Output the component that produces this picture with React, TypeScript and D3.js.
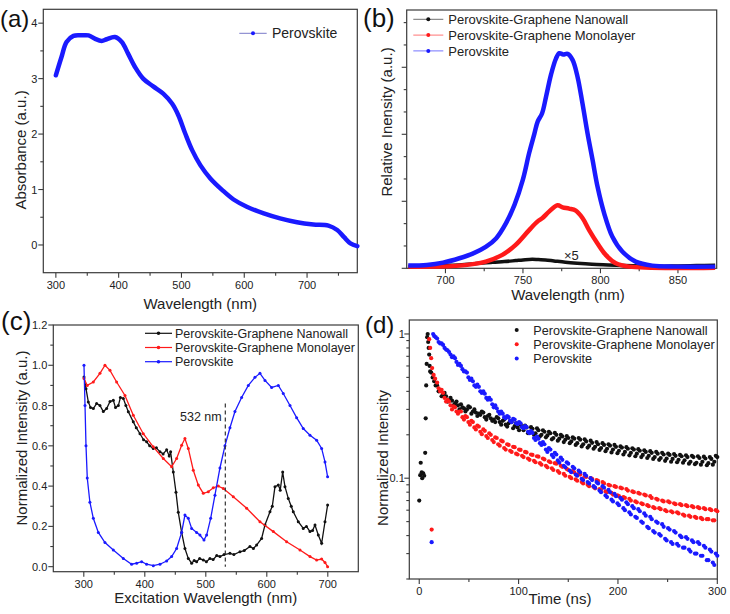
import React from 'react';
import * as d3 from 'd3';

const FONT = '"Liberation Sans", Arial, Helvetica, sans-serif';
const BLUE = '#1a1aff';
const RED = '#ff1a1a';
const BLACK = '#111111';
const FRAME = '#3a3a3a';

type Pt = [number, number];

// ---------- (a) absorbance ----------
const absWavelength = [300, 309, 317, 328, 341, 352, 362, 373, 381, 394, 405, 415, 426, 439, 455, 471, 485, 495, 506, 517, 530, 546, 565, 583, 604, 631, 657, 684, 710, 734, 748, 759, 769, 780];
const absValue = [3.06, 3.39, 3.66, 3.77, 3.78, 3.78, 3.72, 3.68, 3.71, 3.75, 3.66, 3.45, 3.21, 3.0, 2.86, 2.73, 2.55, 2.34, 2.01, 1.71, 1.44, 1.2, 0.99, 0.82, 0.69, 0.57, 0.48, 0.41, 0.37, 0.35, 0.27, 0.14, 0.03, -0.02];
const absXTicks = [300, 400, 500, 600, 700];
const absXMinor = [350, 450, 550, 650, 750];
const absYTicks = [0, 1, 2, 3, 4];
const absYMinor = [0.5, 1.5, 2.5, 3.5];

// ---------- (b) PL spectra ----------
const plBlue: Pt[] = [[676, 0.04], [688, 0.05], [698.5, 0.085], [709, 0.15], [717.6, 0.22], [726, 0.32], [732.8, 0.45], [739, 0.67], [744.6, 0.95], [749.9, 1.32], [754, 1.72], [757.4, 2.01], [759.5, 2.19], [762.3, 2.31], [764.9, 2.56], [768.1, 2.89], [771.3, 3.13], [773.5, 3.21], [776, 3.19], [778.8, 3.2], [782, 3.11], [785.2, 2.86], [788.4, 2.46], [791.7, 2.01], [794.9, 1.62], [798.1, 1.22], [802.4, 0.82], [807.7, 0.47], [814.1, 0.25], [822.7, 0.1], [833.4, 0.04], [848.4, 0.025], [874, 0.025]];
const plRed: Pt[] = [[676, 0.025], [709, 0.04], [726, 0.1], [736.7, 0.2], [745.3, 0.35], [754, 0.57], [759.5, 0.7], [762.6, 0.75], [767, 0.85], [772.3, 0.94], [775.6, 0.91], [779.8, 0.89], [784.1, 0.86], [788.4, 0.75], [792.7, 0.57], [798.1, 0.37], [803.4, 0.2], [809.9, 0.075], [818.4, 0.025], [874, 0.01]];
const plBlack: Pt[] = [[676, 0.025], [692, 0.04], [709, 0.05], [720, 0.07], [730.4, 0.09], [738, 0.1], [745.3, 0.115], [750, 0.125], [756, 0.135], [760, 0.13], [764.5, 0.125], [770, 0.11], [777.4, 0.09], [785, 0.075], [794.6, 0.06], [805, 0.05], [816, 0.04], [826, 0.035], [837.5, 0.03], [850, 0.035], [862, 0.04], [874, 0.045]];
const plXTicks = [700, 750, 800, 850];
const plXMinor = [725, 775, 825];
const plYTicks = [0, 1, 2, 3];
const plYMinor = [1 / 3, 2 / 3, 4 / 3, 5 / 3, 7 / 3, 8 / 3, 10 / 3, 11 / 3];

// ---------- (c) PLE spectra ----------
const pleBlue: Pt[] = [[300.3, 1.0], [302, 0.8], [303.6, 0.6], [305.7, 0.44], [310, 0.32], [315.6, 0.24], [323.8, 0.17], [334.7, 0.12], [348.4, 0.083], [364.8, 0.041], [378.4, 0.012], [386.6, 0.017], [394.8, 0.025], [403, 0.012], [414, 0.005], [424.9, 0.012], [435.8, 0.028], [444, 0.05], [452.2, 0.09], [460.4, 0.17], [465.8, 0.256], [471.3, 0.24], [476.8, 0.19], [485, 0.17], [490.4, 0.157], [497, 0.132], [501.4, 0.157], [508, 0.24], [515, 0.355], [523.2, 0.49], [531.4, 0.6], [539.6, 0.69], [547.8, 0.77], [558.7, 0.84], [569.7, 0.9], [580.6, 0.94], [588.8, 0.96], [597, 0.925], [607.9, 0.89], [618.9, 0.9], [627, 0.86], [638, 0.8], [648.9, 0.74], [659.8, 0.686], [670.8, 0.653], [681.7, 0.628], [689.9, 0.587], [695.4, 0.52], [699.7, 0.446]];
const pleRed: Pt[] = [[300.3, 0.934], [305.7, 0.9], [315.6, 0.917], [326.5, 0.96], [334.7, 1.0], [342.9, 0.975], [353.8, 0.917], [367.5, 0.85], [381.1, 0.752], [397.5, 0.66], [413.9, 0.595], [430.3, 0.537], [444, 0.496], [452.2, 0.537], [460.4, 0.603], [465.8, 0.636], [471.3, 0.587], [479.5, 0.479], [487.7, 0.405], [495.9, 0.364], [504.1, 0.372], [512.3, 0.392], [520.5, 0.4], [528.7, 0.388], [545.1, 0.347], [567, 0.29], [588.8, 0.223], [610.7, 0.174], [632.5, 0.124], [654.4, 0.083], [670.8, 0.05], [681.7, 0.033], [689.9, 0.038], [695.4, 0.021], [699.7, 0.0]];
const pleBlack: Pt[] = [[300.3, 0.942], [303.6, 0.884], [307.4, 0.818], [311, 0.79], [315.6, 0.785], [321, 0.81], [326.5, 0.8], [332, 0.77], [337.4, 0.785], [343, 0.82], [348.4, 0.826], [352, 0.79], [356.6, 0.8], [360, 0.84], [364.8, 0.835], [369, 0.8], [373, 0.769], [381.1, 0.719], [386, 0.69], [392.1, 0.66], [398, 0.63], [403, 0.62], [408, 0.6], [413.9, 0.587], [419, 0.59], [424.9, 0.57], [430, 0.56], [435.8, 0.58], [440, 0.55], [442.3, 0.57], [446.7, 0.47], [451.1, 0.37], [454.9, 0.27], [460.4, 0.17], [465.8, 0.09], [471.3, 0.041], [476.8, 0.017], [481, 0.03], [485, 0.025], [490, 0.04], [495.9, 0.033], [501, 0.025], [506.8, 0.041], [512, 0.035], [518, 0.055], [523.2, 0.05], [530, 0.06], [539.6, 0.066], [546, 0.06], [556, 0.074], [563, 0.08], [572.4, 0.1], [578, 0.09], [583.3, 0.107], [591.5, 0.14], [597, 0.207], [605.2, 0.273], [609, 0.3], [613.4, 0.397], [618.9, 0.405], [622, 0.38], [626, 0.47], [629.8, 0.397], [635.2, 0.339], [640, 0.3], [643.4, 0.273], [651.6, 0.223], [659.8, 0.19], [665, 0.2], [670.8, 0.174], [675, 0.18], [679, 0.207], [684.4, 0.157], [689.9, 0.116], [695.4, 0.223], [699.7, 0.306]];
const pleXTicks = [300, 400, 500, 600, 700];
const pleXMinor = [350, 450, 550, 650];
const pleYTicks = [0, 0.2, 0.4, 0.6, 0.8, 1.0, 1.2];
const pleYMinor = [0.1, 0.3, 0.5, 0.7, 0.9, 1.1];
const laserLine = 532;

// ---------- (d) TRPL decay ----------
const trBlack: Pt[] = [[0, 0.07], [1, 0.105], [1.5, 0.128], [2.5, 0.11], [3, 0.1], [4, 0.108], [5, 0.104], [6, 0.15], [6.5, 0.26], [7, 0.44], [7.5, 0.62], [8, 0.95], [8.5, 1.0], [9, 0.88], [9.5, 0.8], [10, 0.72], [10.5, 0.6], [11, 0.55],
  [12, 0.54], [15, 0.47], [18, 0.44], [21, 0.41], [24, 0.38], [27, 0.37], [30, 0.35], [33, 0.345], [36, 0.33], [39, 0.32], [42, 0.325], [45, 0.305], [48, 0.3], [51, 0.31], [54, 0.29], [57, 0.285], [60, 0.28], [63, 0.29], [66, 0.265], [69, 0.27], [72, 0.26], [75, 0.255], [78, 0.265], [81, 0.245], [84, 0.25], [87, 0.235], [90, 0.24], [93, 0.245], [96, 0.23], [99, 0.225], [102, 0.235], [105, 0.215], [108, 0.225], [111, 0.21], [114, 0.22], [117, 0.205], [120, 0.215], [123, 0.2], [126, 0.21], [129, 0.198], [132, 0.205], [135, 0.19], [138, 0.2], [141, 0.188], [144, 0.195], [147, 0.185], [150, 0.19], [153, 0.18], [156, 0.188], [159, 0.175], [162, 0.185], [165, 0.172], [168, 0.18], [171, 0.168], [174, 0.176], [177, 0.165], [180, 0.172], [183, 0.162], [186, 0.17], [189, 0.16], [192, 0.168], [195, 0.158], [198, 0.165], [201, 0.155], [204, 0.163], [207, 0.152], [210, 0.16], [213, 0.15], [216, 0.158], [219, 0.148], [222, 0.155], [225, 0.145], [228, 0.152], [231, 0.143], [234, 0.15], [237, 0.14], [240, 0.148], [243, 0.138], [246, 0.146], [249, 0.137], [252, 0.145], [255, 0.136], [258, 0.143], [261, 0.134], [264, 0.142], [267, 0.133], [270, 0.14], [273, 0.13], [276, 0.14], [279, 0.128], [282, 0.138], [285, 0.13], [288, 0.137], [291, 0.127], [294, 0.136], [297, 0.13], [300, 0.14],
  [13.5, 0.5], [16.5, 0.44], [19.5, 0.4], [22.5, 0.37], [25.5, 0.39], [28.5, 0.34], [31.5, 0.36], [34.5, 0.32], [37.5, 0.34], [40.5, 0.3], [43.5, 0.31], [46.5, 0.29], [49.5, 0.315], [52.5, 0.28], [55.5, 0.3], [58.5, 0.27], [61.5, 0.275], [64.5, 0.285], [67.5, 0.255], [70.5, 0.275], [73.5, 0.25], [76.5, 0.245], [79.5, 0.26], [82.5, 0.235], [85.5, 0.255], [88.5, 0.228], [91.5, 0.25], [94.5, 0.222], [97.5, 0.24], [100.5, 0.215], [103.5, 0.228], [106.5, 0.232], [109.5, 0.205], [112.5, 0.226], [115.5, 0.2], [118.5, 0.222], [121.5, 0.195], [124.5, 0.215], [127.5, 0.192], [130.5, 0.21], [133.5, 0.186], [136.5, 0.206], [139.5, 0.182], [142.5, 0.2], [145.5, 0.178], [148.5, 0.196], [151.5, 0.175], [154.5, 0.192], [157.5, 0.17], [160.5, 0.19], [163.5, 0.166], [166.5, 0.186], [169.5, 0.163], [172.5, 0.182], [175.5, 0.16], [178.5, 0.178], [181.5, 0.157], [184.5, 0.175], [187.5, 0.154], [190.5, 0.172], [193.5, 0.151], [196.5, 0.17], [199.5, 0.149], [202.5, 0.166], [205.5, 0.146], [208.5, 0.164], [211.5, 0.144], [214.5, 0.161], [217.5, 0.142], [220.5, 0.159], [223.5, 0.14], [226.5, 0.156], [229.5, 0.138], [232.5, 0.154], [235.5, 0.136], [238.5, 0.152], [241.5, 0.134], [244.5, 0.15], [247.5, 0.132], [250.5, 0.148], [253.5, 0.13], [256.5, 0.147], [259.5, 0.129], [262.5, 0.145], [265.5, 0.128], [268.5, 0.144], [271.5, 0.126], [274.5, 0.143], [277.5, 0.125], [280.5, 0.142], [283.5, 0.124], [286.5, 0.141], [289.5, 0.123], [292.5, 0.14], [295.5, 0.124], [298.5, 0.143]];
const trRed: Pt[] = [[12.5, 0.044], [10, 0.92], [11, 0.8], [12, 0.68], [13, 0.58], [14.5, 0.52], [16, 0.49],
  [18, 0.46], [21, 0.4], [24, 0.39], [27, 0.34], [30, 0.34], [33, 0.3], [36, 0.31], [39, 0.28], [42, 0.29], [45, 0.255], [48, 0.265], [51, 0.235], [54, 0.245], [57, 0.218], [60, 0.228], [63, 0.202], [66, 0.213], [69, 0.19], [72, 0.2], [75, 0.178], [78, 0.19], [81, 0.168], [84, 0.18], [87, 0.158], [90, 0.17], [93, 0.152], [96, 0.164], [99, 0.146], [102, 0.157], [105, 0.14], [108, 0.151], [111, 0.134], [114, 0.145], [117, 0.129], [120, 0.141], [123, 0.124], [126, 0.135], [129, 0.119], [132, 0.129], [135, 0.114], [138, 0.126], [141, 0.109], [144, 0.12], [147, 0.104], [150, 0.114], [153, 0.1], [156, 0.11], [159, 0.096], [162, 0.106], [165, 0.092], [168, 0.102], [171, 0.088], [174, 0.099], [177, 0.085], [180, 0.096], [183, 0.083], [186, 0.092], [189, 0.08], [192, 0.089], [195, 0.077], [198, 0.087], [201, 0.075], [204, 0.085], [207, 0.073], [210, 0.082], [213, 0.07], [216, 0.08], [219, 0.068], [222, 0.078], [225, 0.066], [228, 0.076], [231, 0.064], [234, 0.073], [237, 0.062], [240, 0.071], [243, 0.061], [246, 0.069], [249, 0.059], [252, 0.068], [255, 0.058], [258, 0.066], [261, 0.057], [264, 0.065], [267, 0.055], [270, 0.064], [273, 0.054], [276, 0.063], [279, 0.053], [282, 0.062], [285, 0.052], [288, 0.061], [291, 0.052], [294, 0.06], [297, 0.051], [300, 0.059],
  [19.5, 0.42], [22.5, 0.41], [25.5, 0.36], [28.5, 0.35], [31.5, 0.32], [34.5, 0.315], [37.5, 0.29], [40.5, 0.29], [43.5, 0.265], [46.5, 0.27], [49.5, 0.245], [52.5, 0.25], [55.5, 0.225], [58.5, 0.232], [61.5, 0.21], [64.5, 0.218], [67.5, 0.196], [70.5, 0.205], [73.5, 0.184], [76.5, 0.192], [79.5, 0.172], [82.5, 0.182], [85.5, 0.162], [88.5, 0.172], [91.5, 0.155], [94.5, 0.165], [97.5, 0.148], [100.5, 0.158], [103.5, 0.143], [106.5, 0.152], [109.5, 0.137], [112.5, 0.146], [115.5, 0.132], [118.5, 0.142], [121.5, 0.127], [124.5, 0.137], [127.5, 0.122], [130.5, 0.131], [133.5, 0.117], [136.5, 0.127], [139.5, 0.112], [142.5, 0.122], [145.5, 0.107], [148.5, 0.116], [151.5, 0.102], [154.5, 0.112], [157.5, 0.098], [160.5, 0.107], [163.5, 0.094], [166.5, 0.103], [169.5, 0.09], [172.5, 0.1], [175.5, 0.087], [178.5, 0.097], [181.5, 0.084], [184.5, 0.094], [187.5, 0.081], [190.5, 0.09], [193.5, 0.079], [196.5, 0.088], [199.5, 0.076], [202.5, 0.086], [205.5, 0.074], [208.5, 0.084], [211.5, 0.072], [214.5, 0.081], [217.5, 0.069], [220.5, 0.079], [223.5, 0.067], [226.5, 0.077], [229.5, 0.065], [232.5, 0.075], [235.5, 0.063], [238.5, 0.072], [241.5, 0.062], [244.5, 0.07], [247.5, 0.06], [250.5, 0.069], [253.5, 0.059], [256.5, 0.067], [259.5, 0.058], [262.5, 0.066], [265.5, 0.056], [268.5, 0.065], [271.5, 0.055], [274.5, 0.064], [277.5, 0.054], [280.5, 0.063], [283.5, 0.053], [286.5, 0.062], [289.5, 0.052], [292.5, 0.061], [295.5, 0.051], [298.5, 0.06]];
const trBlue: Pt[] = [[12.5, 0.036], [14, 1.0], [15, 0.97], [18, 0.93], [21, 0.86], [24, 0.84], [27, 0.78], [30, 0.75], [33, 0.69], [36, 0.68], [39, 0.61], [42, 0.6], [45, 0.55], [48, 0.54], [51, 0.48], [54, 0.47], [57, 0.43], [60, 0.43], [63, 0.39], [66, 0.385], [69, 0.35], [72, 0.35], [75, 0.31], [78, 0.305], [81, 0.28], [84, 0.28], [87, 0.26], [90, 0.265], [93, 0.245], [96, 0.255], [99, 0.238], [102, 0.24], [105, 0.222], [108, 0.226], [111, 0.205], [114, 0.206], [117, 0.184], [120, 0.188], [123, 0.17], [126, 0.172], [129, 0.152], [132, 0.158], [135, 0.14], [138, 0.146], [141, 0.128], [144, 0.134], [147, 0.119], [150, 0.126], [153, 0.11], [156, 0.117], [159, 0.104], [162, 0.11], [165, 0.097], [168, 0.104], [171, 0.092], [174, 0.097], [177, 0.086], [180, 0.092], [183, 0.08], [186, 0.086], [189, 0.074], [192, 0.08], [195, 0.069], [198, 0.075], [201, 0.065], [204, 0.071], [207, 0.06], [210, 0.066], [213, 0.056], [216, 0.062], [219, 0.053], [222, 0.059], [225, 0.049], [228, 0.055], [231, 0.045], [234, 0.052], [237, 0.042], [240, 0.049], [243, 0.04], [246, 0.046], [249, 0.037], [252, 0.044], [255, 0.035], [258, 0.042], [261, 0.034], [264, 0.039], [267, 0.033], [270, 0.038], [273, 0.031], [276, 0.036], [279, 0.03], [282, 0.035], [285, 0.029], [288, 0.033], [291, 0.027], [294, 0.031], [297, 0.025], [300, 0.029],
  [16.5, 0.95], [19.5, 0.88], [22.5, 0.86], [25.5, 0.8], [28.5, 0.77], [31.5, 0.72], [34.5, 0.7], [37.5, 0.64], [40.5, 0.62], [43.5, 0.57], [46.5, 0.55], [49.5, 0.5], [52.5, 0.49], [55.5, 0.44], [58.5, 0.445], [61.5, 0.4], [64.5, 0.4], [67.5, 0.36], [70.5, 0.36], [73.5, 0.325], [76.5, 0.32], [79.5, 0.29], [82.5, 0.29], [85.5, 0.265], [88.5, 0.27], [91.5, 0.25], [94.5, 0.258], [97.5, 0.24], [100.5, 0.245], [103.5, 0.226], [106.5, 0.23], [109.5, 0.21], [112.5, 0.212], [115.5, 0.19], [118.5, 0.194], [121.5, 0.175], [124.5, 0.178], [127.5, 0.158], [130.5, 0.162], [133.5, 0.145], [136.5, 0.15], [139.5, 0.133], [142.5, 0.139], [145.5, 0.122], [148.5, 0.129], [151.5, 0.113], [154.5, 0.12], [157.5, 0.106], [160.5, 0.113], [163.5, 0.099], [166.5, 0.107], [169.5, 0.094], [172.5, 0.1], [175.5, 0.088], [178.5, 0.094], [181.5, 0.082], [184.5, 0.088], [187.5, 0.076], [190.5, 0.083], [193.5, 0.071], [196.5, 0.078], [199.5, 0.067], [202.5, 0.073], [205.5, 0.062], [208.5, 0.068], [211.5, 0.058], [214.5, 0.064], [217.5, 0.054], [220.5, 0.061], [223.5, 0.05], [226.5, 0.057], [229.5, 0.046], [232.5, 0.054], [235.5, 0.043], [238.5, 0.05], [241.5, 0.041], [244.5, 0.048], [247.5, 0.038], [250.5, 0.045], [253.5, 0.036], [256.5, 0.043], [259.5, 0.035], [262.5, 0.04], [265.5, 0.033], [268.5, 0.039], [271.5, 0.032], [274.5, 0.037], [277.5, 0.03], [280.5, 0.036], [283.5, 0.029], [286.5, 0.034], [289.5, 0.027], [292.5, 0.032], [295.5, 0.026], [298.5, 0.03]];
const trXTicks = [0, 100, 200, 300];
const trXMinor = [50, 150, 250];
const trYTicks = [0.1, 1];
const trYMinor = [0.02, 0.03, 0.04, 0.05, 0.06, 0.07, 0.08, 0.09, 0.2, 0.3, 0.4, 0.5, 0.6, 0.7, 0.8, 0.9];

const seriesNames = ['Perovskite-Graphene Nanowall', 'Perovskite-Graphene Monolayer', 'Perovskite'];
const seriesColors = [BLACK, RED, BLUE];

type AxesProps = {
  x: any; y: any;
  xMajor: number[]; xMinor: number[]; yMajor: number[]; yMinor: number[];
  xFmt: (v: number) => string; yFmt: ((v: number) => string) | null;
  xLabOff: number; yLabOff: number;
};

function Axes({ x, y, xMajor, xMinor, yMajor, yMinor, xFmt, yFmt, xLabOff, yLabOff }: AxesProps) {
  const [x0, x1] = x.range();
  const [y0, y1] = y.range();
  return (
    <g fontFamily={FONT} fill="#222">
      <rect x={x0} y={y1} width={x1 - x0} height={y0 - y1} fill="none" stroke={FRAME} strokeWidth={1.2} />
      {xMajor.map((v) => <line key={'xM' + v} x1={x(v)} x2={x(v)} y1={y0} y2={y0 + 5} stroke={FRAME} strokeWidth={1.1} />)}
      {xMinor.map((v) => <line key={'xm' + v} x1={x(v)} x2={x(v)} y1={y0} y2={y0 + 3} stroke={FRAME} strokeWidth={1.1} />)}
      {xMajor.map((v) => <text key={'xt' + v} x={x(v)} y={y0 + xLabOff} textAnchor="middle" fontSize={11}>{xFmt(v)}</text>)}
      {yMajor.map((v) => <line key={'yM' + v} x1={x0 - 5} x2={x0} y1={y(v)} y2={y(v)} stroke={FRAME} strokeWidth={1.1} />)}
      {yMinor.map((v) => <line key={'ym' + v} x1={x0 - 3} x2={x0} y1={y(v)} y2={y(v)} stroke={FRAME} strokeWidth={1.1} />)}
      {yFmt && yMajor.map((v) => <text key={'yt' + v} x={x0 - yLabOff} y={y(v) + 4} textAnchor="end" fontSize={11}>{yFmt(v)}</text>)}
    </g>
  );
}

function YTitle({ x, y, text }: { x: number; y: number; text: string }) {
  return <text transform={`translate(${x},${y}) rotate(-90)`} textAnchor="middle" fontSize={15} fontFamily={FONT} fill="#222">{text}</text>;
}
function XTitle({ x, y, text }: { x: number; y: number; text: string }) {
  return <text x={x} y={y} textAnchor="middle" fontSize={15} fontFamily={FONT} fill="#222">{text}</text>;
}
function PanelTag({ x, y, text, size }: { x: number; y: number; text: string; size: number }) {
  return <text x={x} y={y} fontSize={size} fontFamily={FONT} fill="#111">{text}</text>;
}

export default function App() {
  // (a)
  const xa = d3.scaleLinear().domain([280, 780]).range([43.3, 357.3]);
  const ya = d3.scaleLinear().domain([-0.5, 4.25]).range([272.7, 9.3]);
  const absPts: Pt[] = absWavelength.map((w, i) => [w, absValue[i]]);
  const lineA = d3.line<Pt>().x((d) => xa(d[0])).y((d) => ya(d[1])).curve(d3.curveCatmullRom);

  // (b)
  const xb = d3.scaleLinear().domain([675, 875]).range([406.7, 716.7]);
  const yb = d3.scaleLinear().domain([0, 3.855]).range([268.3, 10]);
  const lineB = d3.line<Pt>().x((d) => xb(d[0])).y((d) => yb(d[1])).curve(d3.curveCatmullRom);

  // (c)
  const xc = d3.scaleLinear().domain([250, 750]).range([53.3, 358.3]);
  const yc = d3.scaleLinear().domain([-0.025, 1.2]).range([571.7, 325]);
  const lineC = d3.line<Pt>().x((d) => xc(d[0])).y((d) => yc(d[1]));

  // (d)
  const xd = d3.scaleLinear().domain([-10, 300]).range([409.3, 717.3]);
  const yd = d3.scaleLog().domain([0.02, 1.25]).range([579, 320]);

  const pleSeries = [pleBlack, pleRed, pleBlue];
  const plSeries = [plBlack, plRed, plBlue];
  const trSeries = [trBlack, trRed, trBlue];

  return (
    <svg width={730} height={614} style={{ position: 'absolute', left: 0, top: 0, background: '#fff' }}>
      <rect x={0} y={0} width={730} height={614} fill="#fff" />

      {/* ---------- (a) ---------- */}
      <Axes x={xa} y={ya} xMajor={absXTicks} xMinor={absXMinor} yMajor={absYTicks} yMinor={absYMinor}
        xFmt={(v) => String(v)} yFmt={(v) => String(v)} xLabOff={16} yLabOff={6} />
      <path d={lineA(absPts) || ''} fill="none" stroke={BLUE} strokeWidth={4.5} strokeLinejoin="round" strokeLinecap="round" />
      <line x1={239.3} x2={266.7} y1={33.3} y2={33.3} stroke="#7a7ac8" strokeWidth={1} />
      <circle cx={253} cy={33.3} r={2} fill={BLUE} />
      <text x={272} y={38.3} fontSize={14} fontFamily={FONT} fill="#222">Perovskite</text>
      <XTitle x={200.3} y={309} text="Wavelength (nm)" />
      <YTitle x={26} y={150} text="Absorbance (a.u.)" />
      <PanelTag x={0} y={27} text="(a)" size={24} />

      {/* ---------- (b) ---------- */}
      <Axes x={xb} y={yb} xMajor={plXTicks} xMinor={plXMinor} yMajor={plYTicks} yMinor={plYMinor}
        xFmt={(v) => String(v)} yFmt={null} xLabOff={15.5} yLabOff={7} />
      {plSeries.map((s, i) => (
        <path key={'pl' + i} d={lineB(s) || ''} fill="none" stroke={seriesColors[i]} strokeWidth={i === 0 ? 3.5 : 4.5} strokeLinejoin="round" />
      ))}
      <text x={564} y={260} fontSize={13} fontFamily={FONT} fill="#222">×5</text>
      {seriesNames.map((n, i) => (
        <g key={'lb' + i}>
          <line x1={413.3} x2={443.3} y1={19.3 + i * 15.8} y2={19.3 + i * 15.8} stroke={seriesColors[i]} strokeWidth={1} opacity={0.6} />
          <circle cx={428.3} cy={19.3 + i * 15.8} r={2} fill={seriesColors[i]} />
          <text x={448.3} y={24 + i * 15.8} fontSize={13} fontFamily={FONT} fill="#222">{n}</text>
        </g>
      ))}
      <XTitle x={568} y={299.5} text="Wavelength (nm)" />
      <YTitle x={392} y={122} text="Relative Inensity (a.u.)" />
      <PanelTag x={363} y={27} text="(b)" size={26} />

      {/* ---------- (c) ---------- */}
      <Axes x={xc} y={yc} xMajor={pleXTicks} xMinor={pleXMinor} yMajor={pleYTicks} yMinor={pleYMinor}
        xFmt={(v) => String(v)} yFmt={(v) => v.toFixed(1)} xLabOff={16} yLabOff={6} />
      {pleSeries.map((s, i) => (
        <g key={'ple' + i}>
          <path d={lineC(s) || ''} fill="none" stroke={seriesColors[i]} strokeWidth={1.3} />
          {s.map((d, j) => <circle key={j} cx={xc(d[0])} cy={yc(d[1])} r={1.5} fill={seriesColors[i]} />)}
        </g>
      ))}
      <line x1={xc(laserLine)} x2={xc(laserLine)} y1={yc(0.81)} y2={yc(0)} stroke="#333" strokeWidth={1.2} strokeDasharray="4,3" />
      <text x={221.7} y={420.5} textAnchor="end" fontSize={12.5} fontFamily={FONT} fill="#222">{laserLine} nm</text>
      {seriesNames.map((n, i) => (
        <g key={'lc' + i}>
          <line x1={145} x2={172} y1={333.3 + i * 14.2} y2={333.3 + i * 14.2} stroke={seriesColors[i]} strokeWidth={1.2} />
          <circle cx={158.5} cy={333.3 + i * 14.2} r={1.8} fill={seriesColors[i]} />
          <text x={175} y={337.8 + i * 14.2} fontSize={12.5} fontFamily={FONT} fill="#222">{n}</text>
        </g>
      ))}
      <XTitle x={205.8} y={603} text="Excitation Wavelength (nm)" />
      <YTitle x={27} y={438} text="Normalized Intensity (a.u.)" />
      <PanelTag x={1} y={330} text="(c)" size={26} />

      {/* ---------- (d) ---------- */}
      <Axes x={xd} y={yd} xMajor={trXTicks} xMinor={trXMinor} yMajor={trYTicks} yMinor={trYMinor}
        xFmt={(v) => String(v)} yFmt={(v) => String(v)} xLabOff={15.5} yLabOff={4.5} />
      <g>
        {trSeries.map((s, i) => (
          <g key={'tr' + i}>
            {s.map((d, j) => <circle key={j} cx={xd(d[0])} cy={yd(d[1])} r={2.1} fill={seriesColors[i]} />)}
          </g>
        ))}
      </g>
      {seriesNames.map((n, i) => (
        <g key={'ld' + i}>
          <circle cx={516.7} cy={330 + i * 14.2} r={2} fill={seriesColors[i]} />
          <text x={533.3} y={334.5 + i * 14.2} fontSize={12.6} fontFamily={FONT} fill="#222">{n}</text>
        </g>
      ))}
      <XTitle x={560} y={604} text="Time (ns)" />
      <YTitle x={388} y={458} text="Normalized Intensity" />
      <PanelTag x={365} y={333} text="(d)" size={24} />
    </svg>
  );
}
